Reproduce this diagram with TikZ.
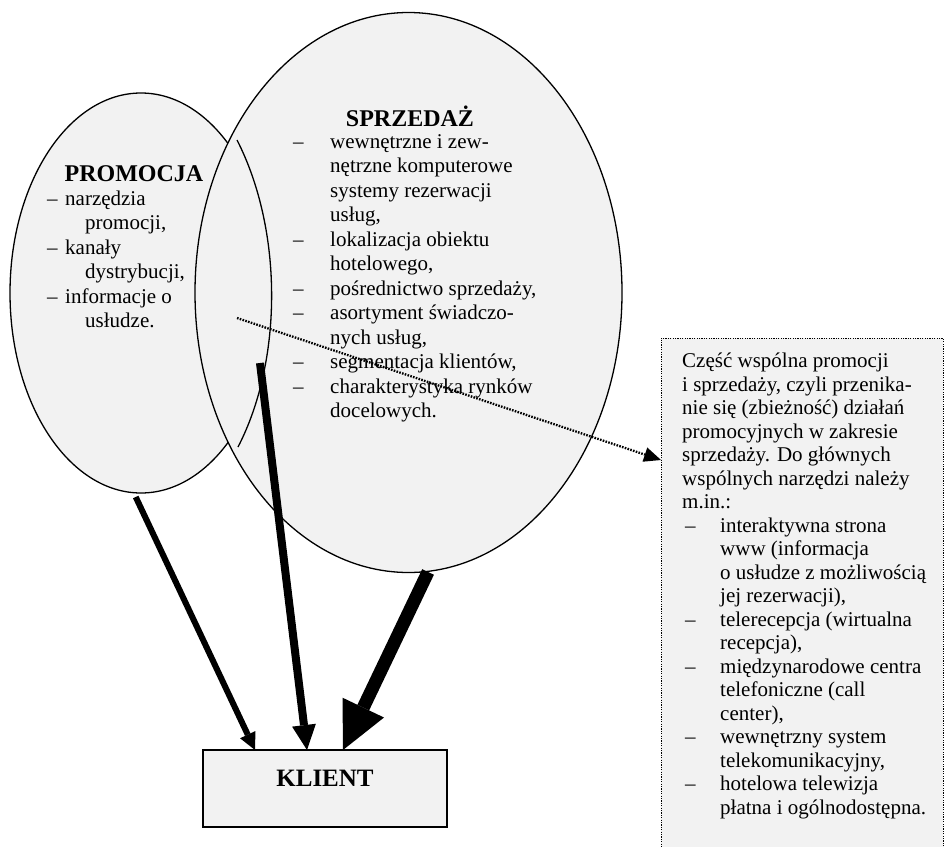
\documentclass[tikz,border=0pt]{standalone}
\usepackage{fontspec}
\setmainfont{Liberation Serif}
\usetikzlibrary{arrows.meta,shapes.geometric}
\definecolor{bubblegray}{gray}{0.95}
\newcommand{\itemdash}[2][0pt]{\makebox[#2][l]{\hspace*{#1}–}}
\newcommand{\itemgap}[1]{\hspace*{#1}}
\tikzset{
  bubble/.style={ellipse,draw=black,line width=1.3pt,fill=bubblegray,inner sep=0pt},
  heading/.style={inner sep=0pt,anchor=base,font=\fontsize{24}{28}\selectfont\bfseries},
  body/.style={inner sep=0pt,anchor=north west,align=left,font=\fontsize{21}{24.5}\selectfont},
  notebox/.style={draw=black,line width=1pt,dash pattern=on 1.2pt off 1.2pt,fill=bubblegray,anchor=north west,inner sep=0pt,outer sep=0pt},
  clientbox/.style={draw=black,line width=1.3pt,fill=bubblegray,minimum width=244pt,minimum height=77pt,inner sep=0pt,outer sep=0pt,text height=16.5pt,text depth=21.5pt,font=\fontsize{25}{30}\selectfont\bfseries},
  thinflow/.style={draw=black,line width=6pt,-{Triangle[length=17pt,width=17pt,line width=0pt]}},
  midflow/.style={draw=black,line width=8pt,-{Triangle[length=25pt,width=24pt,line width=0pt]}},
  thickflow/.style={draw=black,line width=13pt,-{Triangle[length=47pt,width=46pt,line width=0pt]}},
  hintflow/.style={draw=black,line width=2.3pt,dash pattern=on 1.6pt off 1.3pt,-{Triangle[length=17pt,width=15pt,line width=0pt]}}
}
\begin{document}
\begin{tikzpicture}[x=1pt,y=-1pt]
\useasboundingbox (0,0) rectangle (945,846);
\node [bubble,minimum width=262pt,minimum height=400pt] (prom) at (141,293) {};
\node [bubble,minimum width=427pt,minimum height=560pt] (sprz) at (408.5,292.5) {};
\draw [black,line width=1.3pt] (237,140) .. controls (283,230) and (283,360) .. (238,447);
\coordinate (lensmid) at (237,318);
\coordinate (lensfoot) at (260,363);
\node [heading] (promhead) at (134,181) {PROMOCJA};
\node [body] (promlist) at (47,188) {\strut\itemdash{18pt}narzędzia\\
\itemgap{38pt}promocji,\\
\itemdash{18pt}kanały\\
\itemgap{38pt}dystrybucji,\\
\itemdash{18pt}informacje o\\
\itemgap{38pt}usłudze.};
\node [heading] (sprzhead) at (410,126) {SPRZEDAŻ};
\node [body] (sprzlist) at (293,131) {\strut\itemdash{37pt}wewnętrzne i zew-\\
\itemgap{37pt}nętrzne komputerowe\\
\itemgap{37pt}systemy rezerwacji\\
\itemgap{37pt}usług,\\
\itemdash{37pt}lokalizacja obiektu\\
\itemgap{37pt}hotelowego,\\
\itemdash{37pt}pośrednictwo sprzedaży,\\
\itemdash{37pt}asortyment świadczo-\\
\itemgap{37pt}nych usług,\\
\itemdash{37pt}segmentacja klientów,\\
\itemdash{37pt}charakterystyka rynków\\
\itemgap{37pt}docelowych.};
\node [notebox,minimum width=282pt,minimum height=512pt] (note) at (661,338) {};
\node [body,font=\fontsize{21}{23.5}\selectfont] (notetext) at (682,351) {\strut Część wspólna promocji\\
i sprzedaży, czyli przenika-\\
nie się (zbieżność) działań\\
promocyjnych w zakresie\\
sprzedaży. Do głównych\\
wspólnych narzędzi należy\\
m.in.:\\
\itemdash[3pt]{38pt}interaktywna strona\\
\itemgap{38pt}www (informacja\\
\itemgap{38pt}o usłudze z możliwością\\
\itemgap{38pt}jej rezerwacji),\\
\itemdash[3pt]{38pt}telerecepcja (wirtualna\\
\itemgap{38pt}recepcja),\\
\itemdash[3pt]{38pt}międzynarodowe centra\\
\itemgap{38pt}telefoniczne (call\\
\itemgap{38pt}center),\\
\itemdash[3pt]{38pt}wewnętrzny system\\
\itemgap{38pt}telekomunikacyjny,\\
\itemdash[3pt]{38pt}hotelowa telewizja\\
\itemgap{38pt}płatna i ogólnodostępna.};
\node [clientbox] (klient) at (325,788.5) {KLIENT};
\draw [thinflow,shorten <=4pt] (prom.-92.3) -- ([xshift=52pt]klient.north west);
\draw [midflow] (lensfoot) -- ([xshift=104pt]klient.north west);
\draw [thickflow] (sprz.-86) -- ([xshift=140pt]klient.north west);
\draw [hintflow] (lensmid) -- ([yshift=-122pt]note.north west);
\end{tikzpicture}
\end{document}
